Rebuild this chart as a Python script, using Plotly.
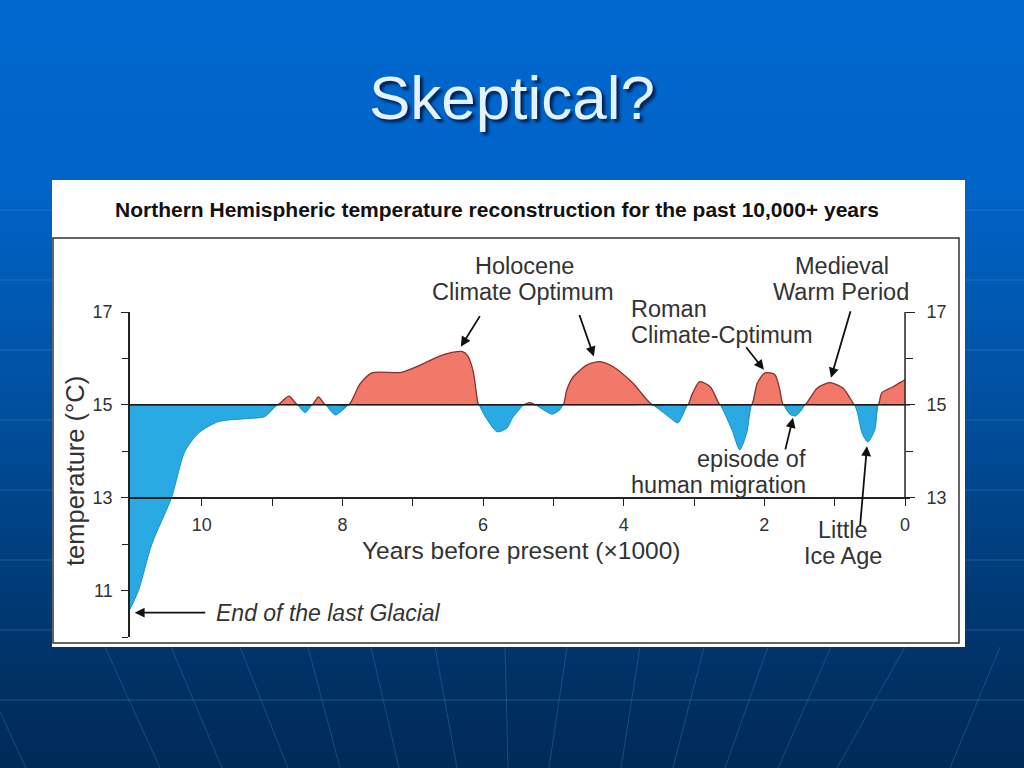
import plotly.graph_objects as go

# ---------------- data ----------------
YEARS_BP = [11.02, 10.90, 10.71, 10.43, 10.24, 10.04, 9.76, 9.40, 9.10, 8.92,
            8.76, 8.64, 8.53, 8.43, 8.34, 8.24, 8.10, 7.91, 7.75, 7.58,
            7.16, 6.90, 6.62, 6.44, 6.30, 6.22, 6.14, 6.09, 6.06, 5.97,
            5.80, 5.66, 5.58, 5.45, 5.42, 5.33, 5.26, 5.02, 4.91, 4.86,
            4.81, 4.72, 4.52, 4.34, 4.15, 3.87, 3.59, 3.34, 3.23, 3.09,
            3.03, 2.92, 2.77, 2.66, 2.63, 2.46, 2.35, 2.25, 2.18, 2.10,
            1.99, 1.85, 1.78, 1.73, 1.64, 1.56, 1.47, 1.42, 1.25, 1.07,
            0.88, 0.74, 0.72, 0.68, 0.61, 0.53, 0.43, 0.38, 0.33, 0.17,
            0.07, 0.00]
TEMP_C = [10.60, 11.00, 12.00, 13.00, 14.00, 14.40, 14.64, 14.70, 14.75, 15.00,
          15.19, 15.00, 14.83, 15.00, 15.17, 15.00, 14.78, 15.00, 15.45, 15.69,
          15.70, 15.85, 16.05, 16.13, 16.15, 16.06, 15.72, 15.20, 15.00, 14.75,
          14.42, 14.50, 14.72, 14.96, 15.00, 15.05, 15.00, 14.80, 14.89, 15.00,
          15.32, 15.60, 15.86, 15.93, 15.82, 15.47, 15.00, 14.72, 14.61, 15.00,
          15.22, 15.50, 15.39, 15.07, 15.00, 14.46, 14.03, 14.40, 15.00, 15.47,
          15.69, 15.65, 15.32, 15.00, 14.80, 14.76, 14.89, 15.00, 15.36, 15.48,
          15.36, 15.04, 15.00, 14.85, 14.39, 14.20, 14.46, 15.00, 15.26, 15.39,
          15.48, 15.54]
BASELINE = 15.0
X_TICKS = [0, 1, 2, 3, 4, 5, 6, 7, 8, 9, 10]
X_TICK_LABELS = ["0", "", "2", "", "4", "", "6", "", "8", "", "10"]
Y_LEFT_TICKS = [11, 13, 15, 17]
Y_LEFT_MINOR = [10, 12, 14, 16]
Y_RIGHT_TICKS = [13, 15, 17]
Y_RIGHT_MINOR = [14, 16]
X_RANGE = [11.02, -0.075]
Y_RANGE = [10, 17]

LABELS = {
    "holocene": ["Holocene", "Climate Optimum"],
    "roman": ["Roman", "Climate-Cptimum"],
    "medieval": ["Medieval", "Warm Period"],
    "migration": ["episode of", "human migration"],
    "lia": ["Little", "Ice Age"],
    "glacial": "End of the last Glacial",
}
ARROW_HEADS = [  # (year BP, temp) the arrows point at
    (6.316, 16.254), (4.424, 16.04), (2.006, 15.757), (1.053, 15.584),
    (1.593, 14.72), (0.541, 14.11), (10.953, 10.524),
]
ARROW_TAILS_PX = [(20, -32), (-15, -43), (-19, -24), (20, -68), (-8, 33), (-7, 81), (72, 0)]

W, H = 1024, 768
FONT = "Liberation Sans, Arial, Helvetica, sans-serif"


def px(x):
    return x / W


def py(y):
    return 1 - y / H


red_series = [max(t, BASELINE) for t in TEMP_C]
blue_series = [min(t, BASELINE) for t in TEMP_C]
base_series = [BASELINE for _ in YEARS_BP]

RED = "#f2796a"
BLUE = "#29aae3"

fig = go.Figure()
SM = 0.7
fig.add_trace(go.Scatter(x=YEARS_BP, y=base_series, mode="lines", line=dict(width=0),
                         hoverinfo="skip", showlegend=False))
fig.add_trace(go.Scatter(x=YEARS_BP, y=TEMP_C, mode="lines", fill="tonexty", fillcolor=BLUE,
                         line=dict(width=0, shape="spline", smoothing=SM), hoverinfo="skip",
                         showlegend=False))
fig.add_trace(go.Scatter(x=YEARS_BP, y=base_series, mode="lines", line=dict(width=0),
                         hoverinfo="skip", showlegend=False))
fig.add_trace(go.Scatter(x=YEARS_BP, y=red_series, mode="lines", fill="tonexty", fillcolor=RED,
                         line=dict(width=1.3, color="#8e2f2a", shape="spline", smoothing=SM),
                         hoverinfo="skip", showlegend=False))
fig.add_trace(go.Scatter(x=YEARS_BP, y=blue_series, mode="lines",
                         line=dict(width=1.0, color="#1c8fc4", shape="spline", smoothing=SM),
                         hoverinfo="skip", showlegend=False))
# reference line at 15 °C
fig.add_trace(go.Scatter(x=X_RANGE, y=[BASELINE, BASELINE], mode="lines", yaxis="y2",
                         line=dict(width=1.5, color="#1a1a1a"), hoverinfo="skip",
                         showlegend=False))

# ---------------- layout geometry ----------------
x_dom = [px(130), px(910.3)]
y_dom = [py(637), py(312)]
x_axis_pos = y_dom[0] + (13 - Y_RANGE[0]) / (Y_RANGE[1] - Y_RANGE[0]) * (y_dom[1] - y_dom[0])

AX = "#222222"
TICKF = dict(family=FONT, size=18, color="#333333")

shapes = []
stops = [(0, (0, 104, 207)), (180, (0, 100, 200)), (400, (0, 80, 160)),
         (560, (0, 62, 125)), (700, (0, 47, 96)), (768, (0, 42, 88))]


def col_at(y):
    for (y0, c0), (y1, c1) in zip(stops[:-1], stops[1:]):
        if y0 <= y <= y1:
            f = (y - y0) / (y1 - y0)
            return "rgb(%d,%d,%d)" % tuple(round(a + (b - a) * f) for a, b in zip(c0, c1))
    return "rgb(0,42,88)"


band = 8
for y0 in range(0, H, band):
    shapes.append(dict(type="rect", xref="paper", yref="paper", x0=0, x1=1,
                       y0=py(y0 + band + 0.5), y1=py(y0), fillcolor=col_at(y0 + band / 2),
                       line=dict(width=0), layer="below"))
for yl in range(210, 701, 70):
    shapes.append(dict(type="line", xref="paper", yref="paper", x0=0, x1=1, y0=py(yl), y1=py(yl),
                       line=dict(color="rgba(95,155,230,0.33)", width=1), layer="below"))
persp = [(-30, 26), (105, 160), (171, 222), (240, 288), (308, 340), (371, 399), (435, 457),
         (505, 508), (567, 549), (640, 621), (704, 673), (768, 725), (831, 778), (905, 837),
         (1000, 950)]
for xt, xb in persp:
    shapes.append(dict(type="line", xref="paper", yref="paper", x0=px(xt), x1=px(xb),
                       y0=py(647), y1=py(768),
                       line=dict(color="rgba(70,135,215,0.35)", width=1), layer="below"))
shapes.append(dict(type="rect", xref="paper", yref="paper", x0=px(52), x1=px(965),
                   y0=py(647), y1=py(180), fillcolor="white", line=dict(width=0), layer="below"))
shapes.append(dict(type="rect", xref="paper", yref="paper", x0=px(53), x1=px(959),
                   y0=py(643), y1=py(238), fillcolor="rgba(0,0,0,0)",
                   line=dict(width=1.5, color="#333333"), layer="below"))
shapes.append(dict(type="line", xref="x", yref="y", x0=0, x1=0, y0=13, y1=17,
                   line=dict(width=1.5, color=AX), layer="above"))

annotations = []


def txt(s, x, y, size=23.5, xanchor="center", color="#333333", angle=0):
    annotations.append(dict(text=s, x=px(x), y=py(y), xref="paper", yref="paper",
                            xanchor=xanchor, yanchor="middle", showarrow=False,
                            textangle=angle,
                            font=dict(family=FONT, size=size, color=color)))


annotations.append(dict(text="Skeptical?", x=px(512), y=py(97), xref="paper", yref="paper",
                        xanchor="center", yanchor="middle", showarrow=False,
                        font=dict(family=FONT, size=62, color="#e4f1ff",
                                  shadow="3px 3px 3px rgba(0,20,60,0.85)")))
txt("<b>Northern Hemispheric temperature reconstruction for the past 10,000+ years</b>",
    497, 209, size=21, color="#111111")
txt(LABELS["holocene"][0], 524, 266)
txt(LABELS["holocene"][1], 523, 292)
txt(LABELS["roman"][0], 629, 309, xanchor="left")
txt(LABELS["roman"][1], 629, 335, xanchor="left")
txt(LABELS["medieval"][0], 842, 266)
txt(LABELS["medieval"][1], 841, 292)
txt(LABELS["migration"][0], 808, 459, xanchor="right")
txt(LABELS["migration"][1], 808, 485, xanchor="right")
txt(LABELS["lia"][0], 843, 530)
txt(LABELS["lia"][1], 843, 556)
txt("<i>" + LABELS["glacial"] + "</i>", 214, 613, size=23, xanchor="left")
txt("Years before present (×1000)", 521, 550, size=24.5)
txt("temperature (°C)", 75, 471, size=25.5, angle=-90)

for (hx, hy), (ax, ay) in zip(ARROW_HEADS, ARROW_TAILS_PX):
    annotations.append(dict(text="", x=hx, y=hy, xref="x", yref="y", ax=ax, ay=ay,
                            showarrow=True, arrowhead=2, arrowsize=1.1, arrowwidth=1.8,
                            arrowcolor="#111111", standoff=0))

fig.update_layout(
    width=W, height=H, margin=dict(l=0, r=0, t=0, b=0, pad=0, autoexpand=False),
    paper_bgcolor="#0066cc", plot_bgcolor="rgba(0,0,0,0)",
    showlegend=False, shapes=shapes, annotations=annotations,
    xaxis=dict(domain=x_dom, range=X_RANGE, anchor="free", position=x_axis_pos,
               automargin=False,
               showline=True, linecolor=AX, linewidth=1.5, ticks="outside", ticklen=8,
               tickwidth=1.3, tickcolor=AX, tickvals=X_TICKS, ticktext=X_TICK_LABELS,
               tickfont=TICKF, ticklabelstandoff=3, showgrid=False, zeroline=False),
    yaxis=dict(domain=y_dom, range=Y_RANGE, showline=True, linecolor=AX, linewidth=1.5,
               automargin=False,
               ticks="outside", ticklen=7, tickwidth=1.3, tickcolor=AX,
               tickvals=Y_LEFT_TICKS, tickfont=TICKF, ticklabelstandoff=5,
               minor=dict(tickvals=Y_LEFT_MINOR, ticks="outside", ticklen=6, tickwidth=1.2,
                          tickcolor=AX, showgrid=False),
               showgrid=False, zeroline=False),
    yaxis2=dict(overlaying="y", side="right", anchor="free", position=px(905),
                automargin=False,
                range=Y_RANGE, showline=False, ticks="outside", ticklen=9, tickwidth=1.3,
                tickcolor=AX, tickvals=Y_RIGHT_TICKS, tickfont=TICKF, ticklabelstandoff=8,
                minor=dict(tickvals=Y_RIGHT_MINOR, ticks="outside", ticklen=7, tickwidth=1.2,
                           tickcolor=AX, showgrid=False),
                showgrid=False, zeroline=False),
)

fig.write_html("out.html", config={"displayModeBar": False},
               post_script="var d=document.getElementById('{plot_id}');"
                           "d.style.position='fixed';d.style.top='0px';d.style.left='0px';"
                           "document.body.style.margin='0px';"
                           "document.body.style.overflow='hidden';")
